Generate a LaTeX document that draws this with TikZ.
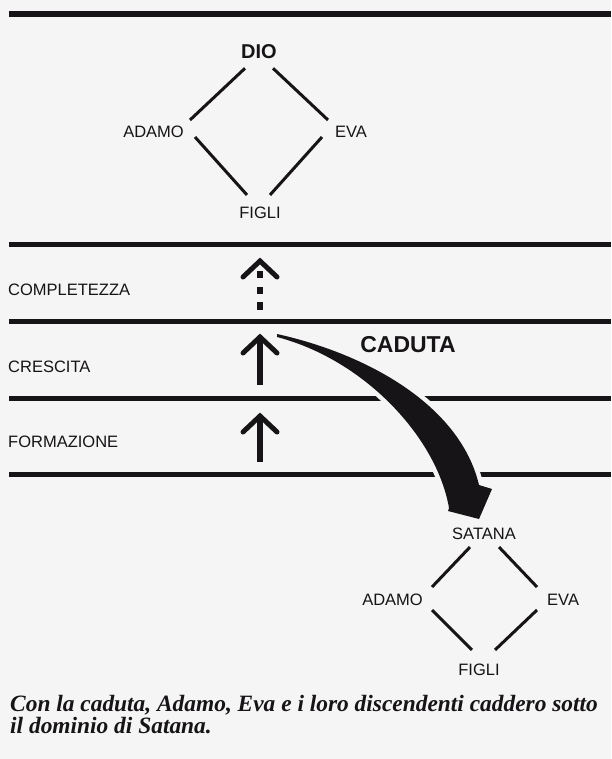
\documentclass[tikz,border=0pt]{standalone}
\usepackage{fontspec}
\setmainfont{Liberation Serif}
\setsansfont{Liberation Sans}
\usetikzlibrary{calc}
\definecolor{ink}{RGB}{22,20,22}
\definecolor{paper}{RGB}{246,245,245}
\tikzset{
  hline/.style={draw=ink, line width=5pt},
  link/.style={draw=ink, line width=3pt},
  lbl/.style={font=\sffamily\fontsize{16.5}{18}\selectfont, inner sep=0pt, text=ink},
  bigbold/.style={font=\sffamily\bfseries\fontsize{20}{22}\selectfont},
  upar/.style={draw=ink, line width=5pt, line cap=round, line join=miter},
  shaft/.style={draw=ink, line width=5.5pt},
  capt/.style={font=\rmfamily\bfseries\itshape\fontsize{23.4}{24}\selectfont, inner sep=0pt, text=ink, anchor=base west},
}
\begin{document}
\begin{tikzpicture}[x=1pt,y=-1pt]
\fill[paper] (0,0) rectangle (611,759);
\useasboundingbox (0,0) rectangle (611,759);

% horizontal level lines
\draw[hline, line width=5.5pt] (9,14) -- (611,14);
\draw[hline] (9,244) -- (611,244);
\draw[hline] (9,321) -- (611,321);
\draw[hline] (9,398) -- (611,398);
\draw[hline] (9,474) -- (611,474);

% curved arrow CADUTA: halo then body
\path[draw=paper, line width=9pt, line join=round]
  (277,334) .. controls (367,354) and (460,405) .. (479,485)
  -- (492,489) -- (479,519) -- (448,511) -- (449,508)
  .. controls (437,438) and (365,360) .. (277,337) -- cycle;
\fill[ink]
  (277,334) .. controls (367,354) and (460,405) .. (479,485)
  -- (492,489) -- (479,519) -- (448,511) -- (449,508)
  .. controls (437,438) and (365,360) .. (277,337) -- cycle;

% dashed upward arrow
\draw[upar] (243,277) -- (260,261) -- (277,277);
\fill[ink] (257,271) rectangle (263,278);
\fill[ink] (257,287) rectangle (263,294);
\fill[ink] (257,302) rectangle (263,310);

% solid upward arrows
\draw[upar] (243,353) -- (260,337) -- (277,353);
\draw[shaft] (260,338) -- (260,385);
\draw[upar] (243,432) -- (260,416) -- (277,432);
\draw[shaft] (260,417) -- (260,462);

% upper diamond
\node[lbl, bigbold] (dio) at (259,52) {DIO};
\node[lbl, anchor=east] (adamoA) at (184,132) {ADAMO};
\node[lbl, anchor=west] (evaA) at (335,132) {EVA};
\node[lbl] (figliA) at (260,213) {FIGLI};
\draw[link] ($(dio.south)+(-14,9)$) -- ($(adamoA.east)+(6,-12)$);
\draw[link] ($(dio.south)+(14,9)$) -- ($(evaA.west)+(-7,-12)$);
\draw[link] ($(adamoA.east)+(11,5)$) -- ($(figliA.north)+(-13,-12)$);
\draw[link] ($(evaA.west)+(-13,5)$) -- ($(figliA.north)+(10,-12)$);

% level labels
\node[lbl, anchor=west] (compl) at (8,290) {COMPLETEZZA};
\node[lbl, anchor=west] (cresc) at (8,367) {CRESCITA};
\node[lbl, anchor=west] (form) at (8,442) {FORMAZIONE};
\node[lbl, font=\sffamily\bfseries\fontsize{23}{25}\selectfont] (caduta) at (408,345) {CADUTA};

% lower diamond
\node[lbl] (satana) at (484,534) {SATANA};
\node[lbl, anchor=east] (adamoB) at (423,600) {ADAMO};
\node[lbl, anchor=west] (evaB) at (547,600) {EVA};
\node[lbl] (figliB) at (479,670) {FIGLI};
\draw[link] ($(satana.south)+(-14,7)$) -- ($(adamoB.east)+(9,-13)$);
\draw[link] ($(satana.south)+(15,7)$) -- ($(evaB.west)+(-10,-13)$);
\draw[link] ($(adamoB.east)+(9,10)$) -- ($(figliB.north)+(-7,-14)$);
\draw[link] ($(evaB.west)+(-10,10)$) -- ($(figliB.north)+(16,-14)$);

% caption
\node[capt] (capA) at (10,711) {Con la caduta, Adamo, Eva e i loro discendenti caddero sotto};
\node[capt] (capB) at (10,733) {il dominio di Satana.};
\end{tikzpicture}
\end{document}
